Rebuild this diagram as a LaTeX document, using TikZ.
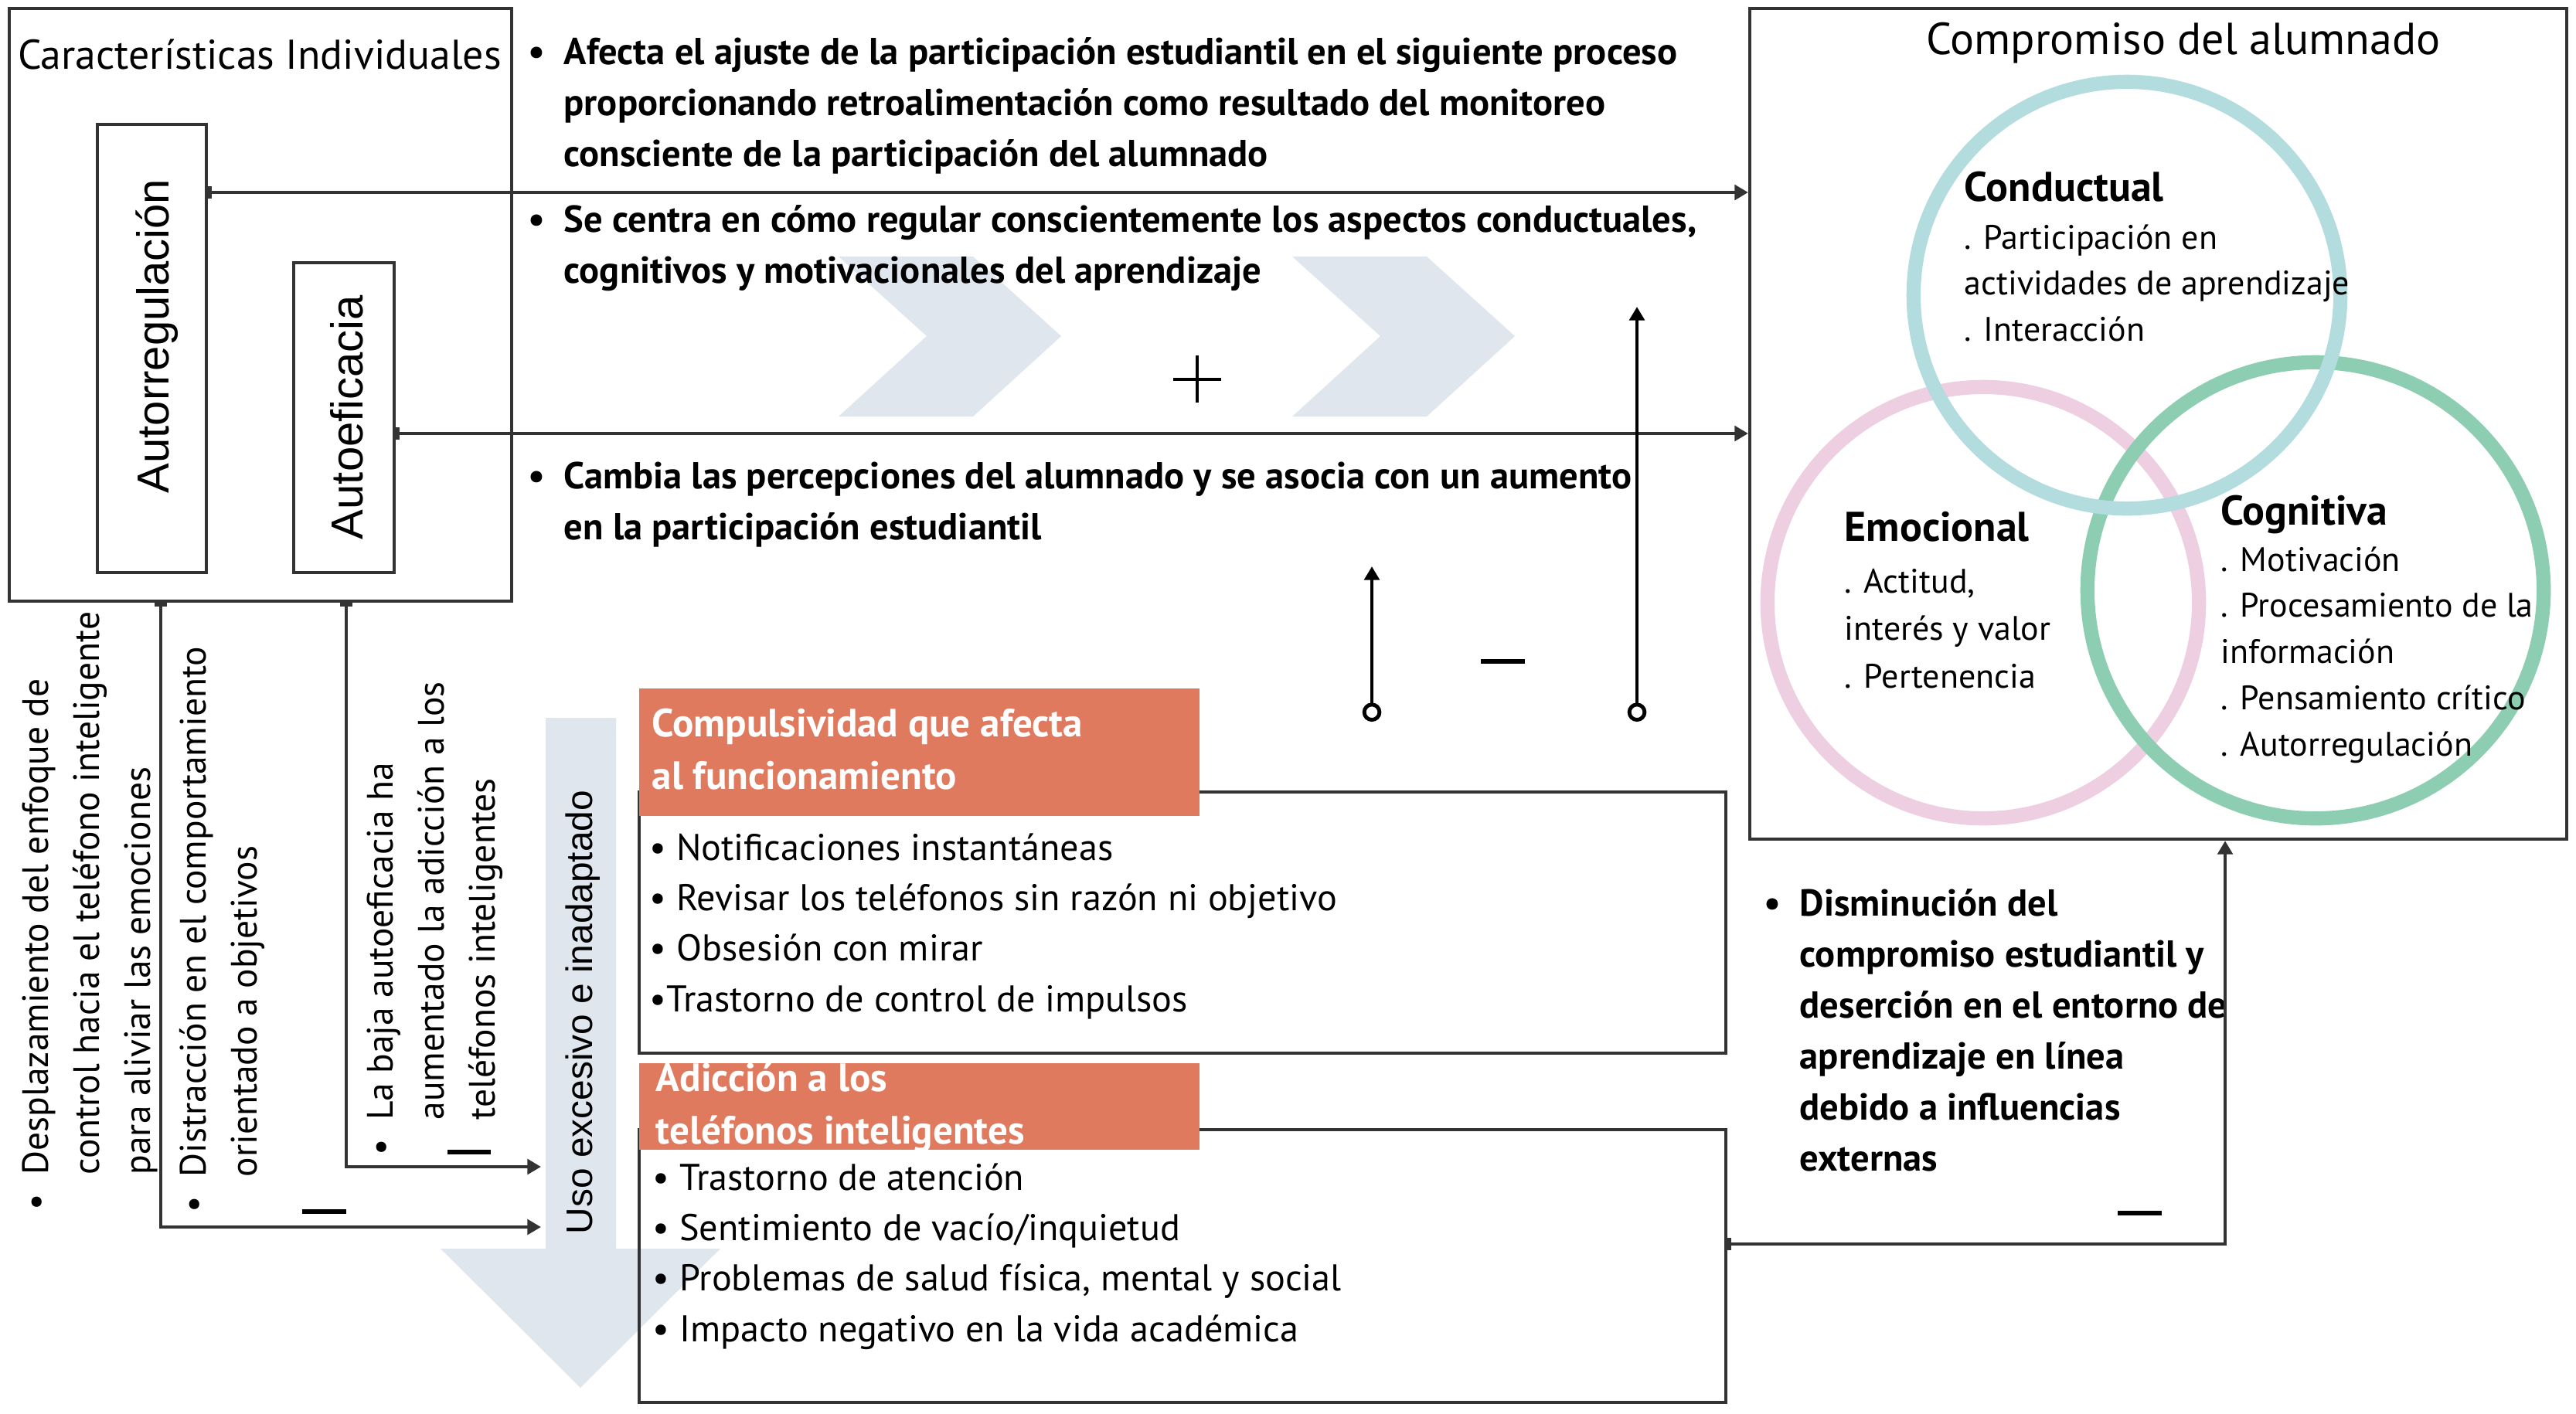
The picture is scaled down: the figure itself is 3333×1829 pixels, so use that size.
\documentclass[tikz,border=0pt]{standalone}
\usepackage{fontspec}
\setmainfont{PT Sans}
\newfontfamily\arialfont{Liberation Sans}
\usetikzlibrary{positioning, arrows.meta, fit}

\definecolor{chevgray}{HTML}{DFE6EE}
\definecolor{orangehead}{HTML}{E07A5F}
\definecolor{ringblue}{HTML}{B3DCDE}
\definecolor{ringpink}{HTML}{EDCFE1}
\definecolor{ringgreen}{HTML}{8DCDB2}
\definecolor{linegray}{HTML}{333333}

\newcommand{\bul}{\makebox[0.46cm][l]{\textbullet}}
\newcommand{\lines}[1]{\begin{tabular}[t]{@{}l@{}}#1\end{tabular}}
\newcommand{\bullines}[1]{\begin{tabular}[t]{@{}l@{}l@{}}#1\end{tabular}}

\begin{document}
\begin{tikzpicture}[x=0.01cm, y=-0.01cm]

	\tikzstyle{box}=[draw=linegray, line width=1.2pt, inner sep=0pt]
	\tikzstyle{headbox}=[fill=orangehead, inner sep=0pt]
	\tikzstyle{ring}=[circle, line width=5.2pt, inner sep=0pt]
	\tikzstyle{note}=[font=\bfseries\fontsize{13.8}{18.8}\selectfont, inner sep=0pt, anchor=base west]
	\tikzstyle{sidenote}=[font=\fontsize{13.5}{18.8}\selectfont, inner sep=0pt, rotate=90, anchor=base west]
	\tikzstyle{listtext}=[font=\fontsize{13.7}{18.6}\selectfont, inner sep=0pt, anchor=base west]
	\tikzstyle{headtext}=[font=\bfseries\fontsize{14.5}{19.6}\selectfont, text=white, inner sep=0pt, anchor=base west]
	\tikzstyle{ringtitle}=[font=\bfseries\fontsize{15.3}{17}\selectfont, inner sep=0pt, anchor=base west]
	\tikzstyle{ringtext}=[font=\fontsize{12.5}{17}\selectfont, inner sep=0pt, anchor=base west]
	\tikzstyle{vlabel}=[font=\arialfont\fontsize{16.5}{18}\selectfont, rotate=90, inner sep=0pt]

	\tikzstyle{link}=[draw=linegray, line width=1.4pt]
	\tikzstyle{feed}=[link, {Bar[width=4.5pt]}-{Triangle[length=5pt, width=5.5pt]}]
	\tikzstyle{riser}=[link, draw=black, {Circle[fill=white, length=7pt, width=7pt]}-{Triangle[length=5pt, width=5.5pt]}]
	\tikzstyle{sign}=[draw=black, line width=1.8pt]

	\path[use as bounding box, fill=white] (0,0) rectangle (3333,1829);

	% background chevrons and the big arrow
	\fill[chevgray] (1085,332) -- (1259,332) -- (1373,435) -- (1259,539) -- (1085,539) -- (1199,435) -- cycle;
	\fill[chevgray] (1672,332) -- (1846,332) -- (1960,435) -- (1846,539) -- (1672,539) -- (1786,435) -- cycle;
	\fill[chevgray] (706,929) -- (797,929) -- (797,1616) -- (932,1616) -- (751,1796) -- (570,1616) -- (706,1616) -- cycle;
	\node[vlabel, font=\arialfont\fontsize{13.6}{16}\selectfont] (excess) at (754,1310) {Uso excesivo e inadaptado};
	\coordinate (excess_in) at (700,0);

	% individual characteristics
	\node[box, fit={(12,11) (662,778)}] (indiv) {};
	\node[font=\fontsize{15.3}{17}\selectfont, anchor=base, inner sep=0pt] (indiv_title) at (336,89) {Características Individuales};
	\node[box, fit={(126,161) (267,741)}] (autoreg) {};
	\node[vlabel] (autoreg_text) at (203,435) {Autorregulación};
	\node[box, fit={(380,340) (510,741)}] (autoefic) {};
	\node[vlabel] (autoefic_text) at (449,540) {Autoeficacia};

	% notes along the arrows
	\node[note] (fb_note) at (683,83) {\bullines{\bul & Afecta el ajuste de la participación estudiantil en el siguiente proceso\\ & proporcionando retroalimentación como resultado del monitoreo\\ & consciente de la participación del alumnado}};
	\node[note] (reg_note) at (683,300) {\bullines{\bul & Se centra en cómo regular conscientemente los aspectos conductuales,\\ & cognitivos y motivacionales del aprendizaje}};
	\node[note] (perc_note) at (683,632) {\bullines{\bul & Cambia las percepciones del alumnado y se asocia con un aumento\\ & en la participación estudiantil}};

	% rotated notes on the left
	\node[sidenote] (shift_note) at (62,1567) {\bullines{\bul & Desplazamiento del enfoque de\\ & control hacia el teléfono inteligente\\ & para aliviar las emociones}};
	\node[sidenote] (distr_note) at (266,1570) {\bullines{\bul & Distracción en el comportamiento\\ & orientado a objetivos}};
	\node[sidenote] (low_note) at (508,1496) {\bullines{\bul & La baja autoeficacia ha\\ & aumentado la adicción a los\\ & teléfonos inteligentes}};

	% compulsivity and addiction
	\node[box, fit={(827,1025) (2233,1363)}] (compuls_box) {};
	\node[headbox, fit={(827,891) (1552,1056)}] (compuls_head) {};
	\node[headtext] (compuls_title) at (843,953) {\lines{Compulsividad que afecta\\al funcionamiento}};
	\node[listtext] (compuls_list) at (840,1113) {\lines{\textbullet\ Notificaciones instantáneas\\ \textbullet\ Revisar los teléfonos sin razón ni objetivo\\ \textbullet\ Obsesión con mirar\\ \textbullet Trastorno de control de impulsos}};

	\node[box, fit={(827,1462) (2233,1815)}] (adicc_box) {};
	\node[headbox, fit={(827,1376) (1552,1488)}] (adicc_head) {};
	\node[headtext] (adicc_title) at (848,1412) {\lines{Adicción a los\\teléfonos inteligentes}};
	\node[listtext] (adicc_list) at (844,1540) {\lines{\textbullet\ Trastorno de atención\\ \textbullet\ Sentimiento de vacío/inquietud\\ \textbullet\ Problemas de salud física, mental y social\\ \textbullet\ Impacto negativo en la vida académica}};

	% student engagement
	\node[box, fit={(2264,11) (3321,1086)}] (compromiso) {};
	\node[font=\fontsize{16.5}{18}\selectfont, anchor=base, inner sep=0pt] (compromiso_title) at (2825,70) {Compromiso del alumnado};
	\node[ring, draw=ringpink, minimum size=5.58cm] (emocional) at (2566,780) {};
	\node[ring, draw=ringgreen, minimum size=5.9cm] (cognitiva) at (2996,764) {};
	\node[ring, draw=ringblue, minimum size=5.52cm] (conductual) at (2752,382) {};

	\node[ringtitle] (conductual_title) at (2541,260) {Conductual};
	\node[ringtext] (conductual_text) at (2541,322) {\lines{. Participación en\\actividades de aprendizaje\\. Interacción}};
	\node[ringtitle] (emocional_title) at (2386,700) {Emocional};
	\node[ringtext, font=\fontsize{12.5}{17.6}\selectfont] (emocional_text) at (2386,767) {\lines{. Actitud,\\interés y valor\\. Pertenencia}};
	\node[ringtitle] (cognitiva_title) at (2873,679) {Cognitiva};
	\node[ringtext] (cognitiva_text) at (2873,739) {\lines{. Motivación\\. Procesamiento de la\\información\\. Pensamiento crítico\\. Autorregulación}};

	\node[note] (drop_note) at (2282,1185) {\bullines{\bul & Disminución del\\ & compromiso estudiantil y\\ & deserción en el entorno de\\ & aprendizaje en línea\\ & debido a influencias\\ & externas}};

	% connectors
	\draw[feed] (autoreg.east |- 0,249) -- (compromiso.west |- 0,249);
	\draw[feed] (autoefic.east |- 0,561) -- (compromiso.west |- 0,561);
	\draw[feed] (indiv.south -| 208,0) |- (excess_in |- 0,1588);
	\draw[feed] (indiv.south -| 448,0) |- (excess_in |- 0,1510);
	\draw[feed] (adicc_box.east |- 0,1610) -| (compromiso.south -| 2879,0);

	\coordinate (rise_a_foot) at (1775,934);
	\coordinate (rise_a_top) at (1775,733);
	\coordinate (rise_b_foot) at (2118,934);
	\coordinate (rise_b_top) at (2118,397);
	\draw[riser] (rise_a_foot) -- (rise_a_top);
	\draw[riser] (rise_b_foot) -- (rise_b_top);

	% signs
	\draw[draw=black, line width=0.9pt] (1518,491) -- (1580,491) (1549,460) -- (1549,521);
	\draw[sign] (1916,856) -- (1973,856);
	\draw[sign] (579,1491) -- (635,1491);
	\draw[sign] (391,1568) -- (448,1568);
	\draw[sign] (2740,1570) -- (2797,1570);

\end{tikzpicture}
\end{document}
